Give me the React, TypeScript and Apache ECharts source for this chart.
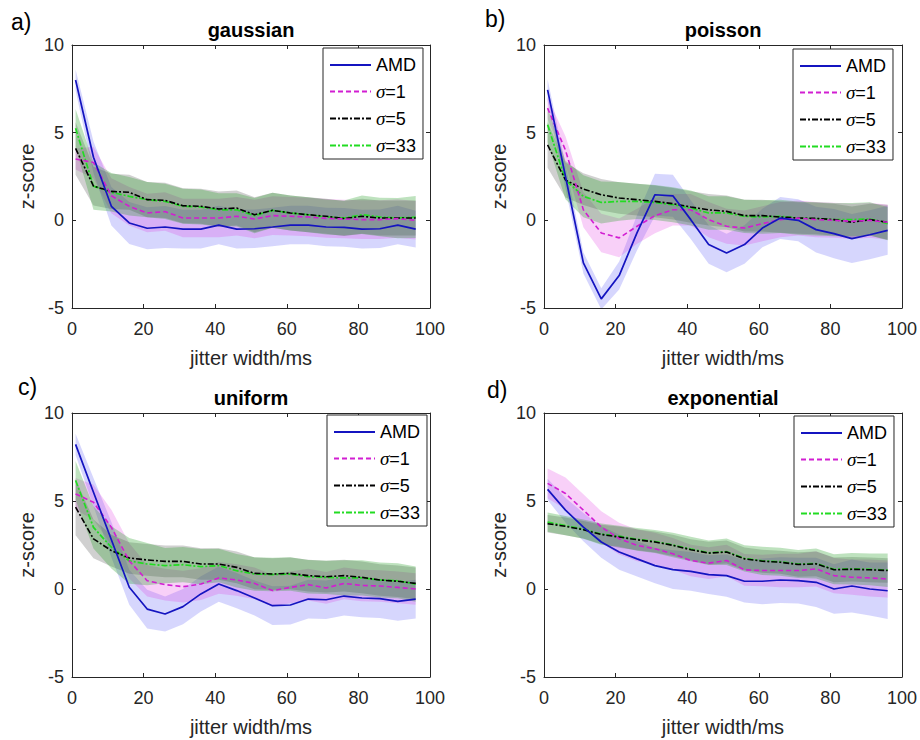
import React, { useEffect, useRef } from "react";
import * as echarts from "echarts";

// ---------- data ----------
const jitterWidths = [1, 6, 11, 16, 21, 26, 31, 36, 41, 46, 51, 56, 61, 66, 71, 76, 81, 86, 91, 96];
const seriesNames = ["AMD", "σ=1", "σ=5", "σ=33"];
const xTicks = [0, 20, 40, 60, 80, 100];
const yTicks = [-5, 0, 5, 10];

// gaussian
const gaussAMD = [8.0, 3.6, 0.8, -0.15, -0.45, -0.38, -0.5, -0.5, -0.27, -0.5, -0.48, -0.38, -0.27, -0.27, -0.38, -0.4, -0.5, -0.48, -0.27, -0.5];
const gaussS1 = [3.5, 3.3, 1.4, 0.8, 0.42, 0.5, 0.13, 0.13, 0.13, 0.23, 0.08, 0.27, 0.23, 0.19, 0.11, 0.08, 0.04, 0.04, 0.1, 0.0];
const gaussS5 = [4.1, 1.95, 1.65, 1.6, 1.18, 1.14, 0.83, 0.8, 0.65, 0.7, 0.32, 0.57, 0.42, 0.32, 0.23, 0.1, 0.23, 0.13, 0.13, 0.13];
const gaussS33 = [5.25, 1.95, 1.6, 1.37, 1.18, 1.08, 0.8, 0.76, 0.6, 0.6, 0.27, 0.57, 0.42, 0.32, 0.19, 0.13, 0.32, 0.19, 0.13, 0.19];
const gaussAMDsd = [0.6, 0.9, 1.1, 1.2, 1.2, 1.2, 1.1, 1.1, 1.1, 1.1, 1.1, 1.1, 1.1, 1.1, 1.1, 1.1, 1.1, 1.1, 1.1, 1.05];
const gaussS1sd = [0.6, 0.9, 1.0, 1.1, 1.1, 1.1, 1.1, 1.1, 1.1, 1.1, 1.1, 1.1, 1.1, 1.1, 1.1, 1.1, 1.1, 1.1, 1.1, 1.1];
const gaussS5sd = [1.5, 1.1, 1.0, 1.0, 1.0, 1.0, 1.0, 1.0, 1.0, 1.0, 1.0, 1.0, 1.0, 1.0, 1.0, 1.0, 1.0, 1.0, 1.0, 1.0];
const gaussS33sd = [1.1, 1.35, 1.1, 1.1, 1.0, 1.0, 1.0, 1.0, 0.95, 0.95, 1.0, 1.0, 1.0, 1.0, 1.0, 1.0, 1.1, 1.1, 1.15, 1.2];

// poisson
const poisAMD = [7.44, 2.5, -2.43, -4.48, -3.15, -0.7, 1.46, 1.4, 0.04, -1.38, -1.86, -1.38, -0.44, 0.13, 0.0, -0.53, -0.76, -1.04, -0.82, -0.57];
const poisS1 = [6.4, 4.0, 0.6, -0.72, -1.0, -0.34, 0.27, 0.6, 0.6, 0.04, -0.34, -0.44, -0.19, 0.04, 0.13, 0.04, 0.0, -0.06, 0.0, -0.11];
const poisS5 = [4.3, 2.3, 1.78, 1.46, 1.27, 1.18, 1.08, 0.95, 0.76, 0.6, 0.51, 0.27, 0.27, 0.19, 0.13, 0.11, 0.04, -0.11, 0.04, -0.11];
const poisS33 = [5.45, 2.3, 1.37, 1.02, 1.08, 1.08, 1.02, 0.89, 0.7, 0.42, 0.42, 0.23, 0.19, 0.23, 0.13, 0.08, 0.04, 0.04, 0.08, -0.19];
const poisAMDsd = [0.6, 0.7, 0.6, 0.6, 0.8, 1.0, 1.2, 1.2, 1.1, 1.1, 1.1, 1.1, 1.1, 1.2, 1.2, 1.3, 1.4, 1.4, 1.4, 1.4];
const poisS1sd = [0.6, 0.8, 1.0, 1.1, 1.1, 1.0, 1.0, 0.9, 0.9, 1.0, 1.0, 1.0, 1.0, 1.0, 1.0, 1.0, 1.0, 1.0, 1.0, 1.0];
const poisS5sd = [1.3, 1.0, 0.9, 0.9, 0.9, 0.9, 0.9, 0.9, 0.9, 0.9, 0.9, 0.9, 0.9, 0.9, 0.9, 0.9, 0.9, 0.9, 0.9, 1.0];
const poisS33sd = [1.0, 1.1, 1.2, 1.2, 1.1, 1.0, 1.0, 1.0, 1.0, 0.95, 0.95, 0.95, 0.95, 0.95, 0.95, 0.95, 0.95, 0.95, 0.95, 0.95];

// uniform
const unifAMD = [8.22, 5.5, 2.8, 0.1, -1.14, -1.42, -1.0, -0.28, 0.28, -0.09, -0.51, -0.95, -0.91, -0.57, -0.61, -0.4, -0.51, -0.55, -0.7, -0.57];
const unifS1 = [5.4, 4.93, 3.5, 1.6, 0.47, 0.25, 0.13, 0.28, 0.63, 0.51, 0.32, -0.09, 0.09, 0.25, 0.06, 0.32, 0.2, 0.17, 0.09, 0.0];
const unifS5 = [4.65, 2.85, 2.18, 1.76, 1.65, 1.57, 1.57, 1.42, 1.42, 1.23, 0.89, 0.85, 0.89, 0.76, 0.7, 0.76, 0.66, 0.51, 0.44, 0.32];
const unifS33 = [6.17, 3.5, 2.37, 1.6, 1.42, 1.33, 1.38, 1.27, 1.33, 1.04, 0.85, 0.82, 0.85, 0.7, 0.66, 0.63, 0.63, 0.51, 0.47, 0.28];
const unifAMDsd = [0.6, 0.8, 1.0, 1.0, 1.1, 1.0, 1.0, 1.0, 1.0, 1.0, 1.0, 1.1, 1.1, 1.1, 1.1, 1.1, 1.1, 1.1, 1.1, 1.1];
const unifS1sd = [0.9, 1.0, 1.0, 1.0, 0.9, 0.9, 0.9, 0.9, 0.9, 0.9, 0.9, 0.9, 0.9, 0.9, 0.9, 0.9, 0.9, 0.9, 0.9, 0.9];
const unifS5sd = [1.6, 1.1, 0.9, 0.9, 0.9, 0.9, 0.9, 0.9, 0.9, 0.9, 0.9, 0.9, 0.9, 0.9, 0.9, 0.9, 0.9, 0.9, 0.9, 0.9];
const unifS33sd = [1.1, 1.2, 1.2, 1.3, 1.2, 1.0, 1.0, 1.0, 0.95, 0.95, 0.95, 0.95, 0.95, 0.95, 0.95, 1.0, 1.0, 1.0, 1.0, 1.0];

// exponential
const expoAMD = [5.66, 4.48, 3.52, 2.67, 2.1, 1.71, 1.33, 1.1, 1.0, 0.82, 0.76, 0.44, 0.44, 0.51, 0.48, 0.38, 0.0, 0.17, 0.0, -0.1];
const expoS1 = [6.0, 5.43, 4.48, 3.52, 2.86, 2.48, 2.29, 2.0, 1.62, 1.47, 1.62, 1.09, 1.05, 1.05, 1.05, 1.14, 0.76, 0.67, 0.63, 0.57];
const expoS5 = [3.71, 3.56, 3.37, 3.1, 2.95, 2.8, 2.67, 2.48, 2.23, 2.04, 2.1, 1.71, 1.58, 1.52, 1.39, 1.43, 1.09, 1.12, 1.09, 1.05];
const expoS33 = [3.8, 3.6, 3.4, 3.12, 3.0, 2.82, 2.7, 2.5, 2.27, 2.06, 2.12, 1.74, 1.6, 1.55, 1.42, 1.45, 1.12, 1.15, 1.12, 1.07];
const expoAMDsd = [0.6, 0.7, 0.8, 0.9, 1.0, 1.0, 1.0, 1.1, 1.1, 1.1, 1.2, 1.2, 1.3, 1.3, 1.3, 1.4, 1.4, 1.5, 1.5, 1.6];
const expoS1sd = [0.85, 0.9, 0.9, 0.9, 0.9, 0.9, 0.9, 0.9, 0.9, 0.9, 0.9, 0.9, 0.9, 0.95, 0.95, 1.0, 1.0, 1.0, 1.05, 1.05];
const expoS5sd = [0.5, 0.5, 0.5, 0.55, 0.6, 0.6, 0.6, 0.6, 0.6, 0.65, 0.65, 0.65, 0.65, 0.65, 0.7, 0.7, 0.7, 0.7, 0.7, 0.7];
const expoS33sd = [0.55, 0.55, 0.55, 0.6, 0.6, 0.65, 0.65, 0.7, 0.7, 0.7, 0.75, 0.75, 0.8, 0.8, 0.8, 0.85, 0.85, 0.9, 0.9, 0.95];

// ---------- styles / layout ----------
const SANS = "'Liberation Sans', Arial, Helvetica, sans-serif";
const SERIF = "'Liberation Serif', 'DejaVu Serif', serif";
const AXIS_COLOR = "#262626";

const lineStyles = [
  { color: "#1414c0", type: "solid", width: 1.7 },
  { color: "#d21ed2", type: [5, 3], width: 1.6 },
  { color: "#000000", type: [6, 2, 2, 2], width: 1.6 },
  { color: "#22dc22", type: [6, 2, 2, 2], width: 1.7 },
];
const bandColors = [
  "rgba(70,70,245,0.22)",
  "rgba(225,40,225,0.22)",
  "rgba(40,40,40,0.22)",
  "rgba(40,160,40,0.3)",
];

const panels = [
  {
    letter: "a)", title: "gaussian",
    grid: { left: 72, top: 45, width: 358, height: 263 },
    means: [gaussAMD, gaussS1, gaussS5, gaussS33],
    sds: [gaussAMDsd, gaussS1sd, gaussS5sd, gaussS33sd],
    legendPos: [323, 48], titlePos: [251, 30], letterPos: [11, 22],
  },
  {
    letter: "b)", title: "poisson",
    grid: { left: 544, top: 45, width: 358, height: 263 },
    means: [poisAMD, poisS1, poisS5, poisS33],
    sds: [poisAMDsd, poisS1sd, poisS5sd, poisS33sd],
    legendPos: [793, 49], titlePos: [723, 30], letterPos: [485, 19],
  },
  {
    letter: "c)", title: "uniform",
    grid: { left: 72, top: 413, width: 358, height: 264 },
    means: [unifAMD, unifS1, unifS5, unifS33],
    sds: [unifAMDsd, unifS1sd, unifS5sd, unifS33sd],
    legendPos: [327, 415], titlePos: [251, 398], letterPos: [18, 387],
  },
  {
    letter: "d)", title: "exponential",
    grid: { left: 544, top: 413, width: 358, height: 264 },
    means: [expoAMD, expoS1, expoS5, expoS33],
    sds: [expoAMDsd, expoS1sd, expoS5sd, expoS33sd],
    legendPos: [794, 416], titlePos: [723, 398], letterPos: [487, 390],
  },
];

function bandSeriesFor(i: number, s: number, mean: number[], sd: number[]) {
  const data = jitterWidths.map((x, k) => [x, mean[k] - sd[k], mean[k] + sd[k]]);
  return {
    type: "custom",
    name: `band-${i}-${s}`,
    xAxisIndex: 2 * i,
    yAxisIndex: 2 * i,
    silent: true,
    z: 1,
    clip: true,
    encode: { x: 0, y: [1, 2] },
    data,
    renderItem: (params: any, api: any) => {
      if (params.dataIndex !== 0) return null;
      const upper = data.map((d) => api.coord([d[0], d[2]]));
      const lower = data.map((d) => api.coord([d[0], d[1]])).reverse();
      return {
        type: "polygon",
        shape: { points: upper.concat(lower) },
        style: { fill: bandColors[s], stroke: "none" },
        silent: true,
      };
    },
  };
}

function buildOption() {
  const grid: any[] = [];
  const xAxis: any[] = [];
  const yAxis: any[] = [];
  const bandSeries: any[] = [];
  const lineSeries: any[] = [];
  const legend: any[] = [];
  const graphic: any[] = [];

  const tickStyle = { inside: true, length: 4, lineStyle: { color: AXIS_COLOR, width: 1 } };
  const lineAx = { onZero: false, lineStyle: { color: AXIS_COLOR, width: 1 } };

  panels.forEach((p, i) => {
    grid.push({ ...p.grid, containLabel: false });
    const xBase = {
      gridIndex: i, type: "value", min: xTicks[0], max: xTicks[xTicks.length - 1], interval: 20,
      axisLine: lineAx, axisTick: tickStyle, splitLine: { show: false },
    };
    const yBase = {
      gridIndex: i, type: "value", min: yTicks[0], max: yTicks[yTicks.length - 1], interval: 5,
      axisLine: lineAx, axisTick: tickStyle, splitLine: { show: false },
    };
    xAxis.push({
      ...xBase, position: "bottom",
      axisLabel: { fontSize: 18, color: AXIS_COLOR, fontFamily: SANS, margin: 12 },
      name: "jitter width/ms", nameLocation: "middle", nameGap: 40,
      nameTextStyle: { fontSize: 20, color: AXIS_COLOR, fontFamily: SANS },
    });
    xAxis.push({ ...xBase, position: "top", axisLabel: { show: false } });
    yAxis.push({
      ...yBase, position: "left",
      axisLabel: { fontSize: 18, color: AXIS_COLOR, fontFamily: SANS, margin: 8 },
      name: "z-score", nameLocation: "middle", nameGap: 35,
      nameTextStyle: { fontSize: 20, color: AXIS_COLOR, fontFamily: SANS },
    });
    yAxis.push({ ...yBase, position: "right", axisLabel: { show: false } });

    p.means.forEach((m, s) => {
      bandSeries.push(bandSeriesFor(i, s, m, p.sds[s]));
    });
    [3, 2, 1, 0].forEach((s) => {
      lineSeries.push({
        type: "line", name: seriesNames[s], xAxisIndex: 2 * i, yAxisIndex: 2 * i,
        symbol: "none", silent: true, z: 3,
        lineStyle: lineStyles[s], itemStyle: { color: lineStyles[s].color },
        data: jitterWidths.map((x, k) => [x, p.means[s][k]]),
      });
    });

    legend.push({
      orient: "vertical", left: p.legendPos[0], top: p.legendPos[1],
      data: seriesNames, selectedMode: false,
      itemWidth: 41, itemHeight: 12, itemGap: 8, padding: [8, 7, 4, 6],
      borderColor: AXIS_COLOR, borderWidth: 1, backgroundColor: "#ffffff", borderRadius: 0,
      itemStyle: { opacity: 0 },
      lineStyle: { width: 2 },
      formatter: (name: string) =>
        name === "AMD" ? "{n|AMD}" : `{s|σ}{n|${name.slice(1)}}`,
      textStyle: {
        fontSize: 18, color: "#000", fontFamily: SANS,
        rich: {
          s: { fontFamily: SERIF, fontStyle: "italic", fontSize: 19, color: "#000" },
          n: { fontFamily: SANS, fontSize: 18, color: "#000" },
        },
      },
    });

    graphic.push({
      type: "text", x: p.titlePos[0], y: p.titlePos[1], silent: true,
      style: {
        text: p.title, fill: "#000", font: `bold 20px ${SANS}`,
        align: "center", verticalAlign: "middle", textAlign: "center", textVerticalAlign: "middle",
      },
    });
    graphic.push({
      type: "text", x: p.letterPos[0], y: p.letterPos[1], silent: true,
      style: {
        text: p.letter, fill: "#000", font: `23px ${SANS}`,
        align: "left", verticalAlign: "middle", textAlign: "left", textVerticalAlign: "middle",
      },
    });
  });

  return {
    animation: false,
    backgroundColor: "#ffffff",
    grid, xAxis, yAxis, legend, graphic,
    series: [...bandSeries, ...lineSeries],
  };
}

export default function App() {
  const ref = useRef<HTMLDivElement>(null);
  useEffect(() => {
    if (!ref.current) return;
    const chart = echarts.init(ref.current, undefined, { renderer: "svg" });
    chart.setOption(buildOption() as any);
    return () => chart.dispose();
  }, []);
  return (
    <div
      ref={ref}
      style={{ position: "absolute", left: 0, top: 0, width: 920, height: 740, background: "#fff" }}
    />
  );
}
